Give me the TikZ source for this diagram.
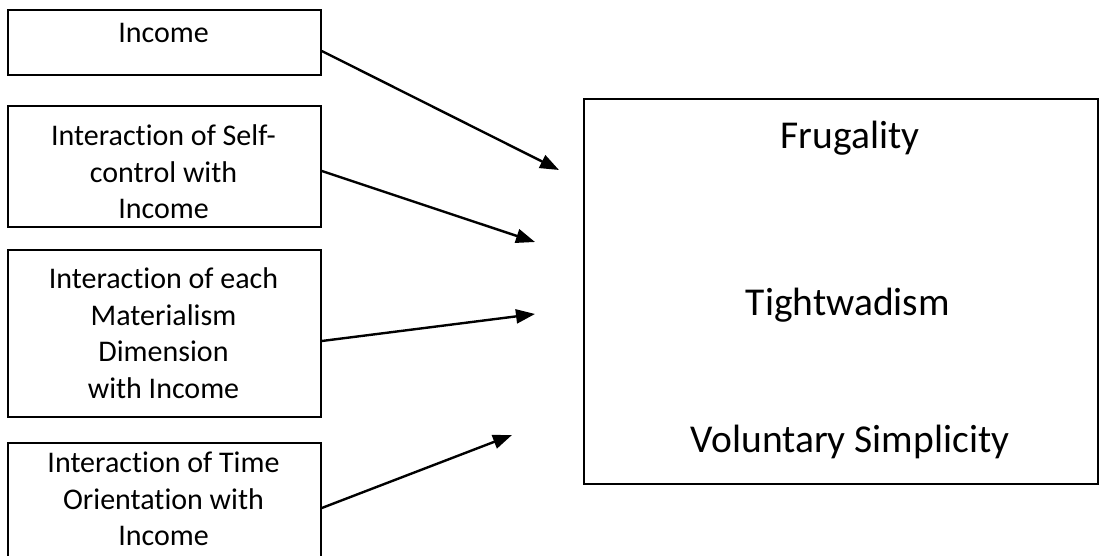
\documentclass[tikz,border=0pt]{standalone}
\usepackage{fontspec}
\setmainfont{Carlito}[RawFeature={-liga;-clig;-calt;-dlig}]
\usetikzlibrary{arrows.meta}
\begin{document}
\begin{tikzpicture}[x=1pt,y=-1pt,
  box/.style={draw=black,line width=1.8pt,rectangle,minimum width=313pt,anchor=north west,inner sep=0pt},
  outbox/.style={draw=black,line width=2pt,rectangle,minimum width=514pt,minimum height=385pt,anchor=north west,inner sep=0pt},
  lbl/.style={align=center,font=\fontsize{30}{36.5}\selectfont,inner sep=0pt},
  big/.style={font=\fontsize{39.5}{48}\selectfont,inner sep=0pt},
  arr/.style={line width=2.4pt,-{Triangle[length=19pt,width=14pt]}}]
\clip (0,0) rectangle (1112,556);
\fill[white] (0,0) rectangle (1112,556);
% input boxes
\node[box,minimum height=65pt] (b1) at (7,9) {};
\node[box,minimum height=121pt] (b2) at (7,105) {};
\node[box,minimum height=167pt] (b3) at (7,249) {};
\node[box,minimum height=150pt] (b4) at (7,442) {};
\node[lbl] (t1) at (163.5,33) {Income};
\node[lbl] (t2) at (163.5,172) {Interaction of Self-\\control with\\Income};
\node[lbl] (t3) at (163.5,333) {Interaction of each\\Materialism\\Dimension\\with Income};
\node[lbl] (t4) at (163.5,499) {Interaction of Time\\Orientation with\\Income};
% outcome box
\node[outbox] (out) at (583,98) {};
\node[big] (o1) at (850,138) {Frugality};
\node[big] (o2) at (848,305) {Tightwadism};
\node[big] (o3) at (850,442) {Voluntary Simplicity};
% arrow ends
\coordinate (e1) at (559,170);
\coordinate (e2) at (535,242);
\coordinate (e3) at (535,314);
\coordinate (e4) at (512,435);
\draw[arr] ([yshift=-42pt]b1.north east) -- (e1);
\draw[arr] ([yshift=-66pt]b2.north east) -- (e2);
\draw[arr] ([yshift=-92pt]b3.north east) -- (e3);
\draw[arr] ([yshift=-66pt]b4.north east) -- (e4);
\end{tikzpicture}
\end{document}
